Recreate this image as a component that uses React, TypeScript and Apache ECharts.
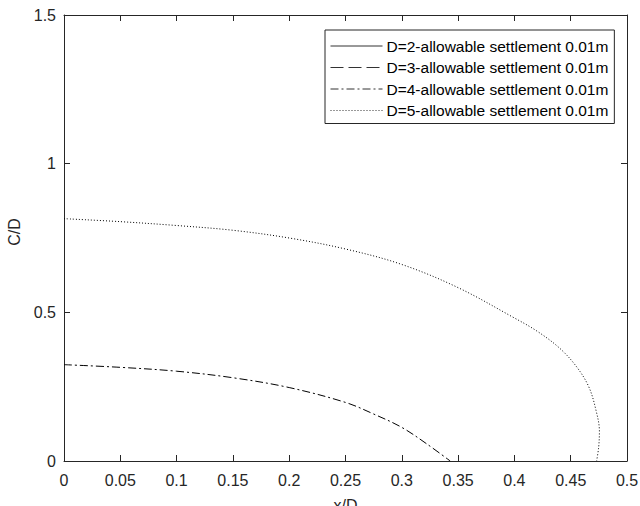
import React, { useEffect, useRef } from "react";
import * as echarts from "echarts";

const seriesNames = [
  "D=2-allowable settlement 0.01m",
  "D=3-allowable settlement 0.01m",
  "D=4-allowable settlement 0.01m",
  "D=5-allowable settlement 0.01m",
];

const d2X: number[] = [];
const d2Y: number[] = [];
const d3X: number[] = [];
const d3Y: number[] = [];
const d4X = [0, 0.05, 0.1, 0.15, 0.2, 0.25, 0.275, 0.3, 0.322, 0.343];
const d4Y = [0.324, 0.315, 0.302, 0.28, 0.247, 0.197, 0.158, 0.113, 0.058, 0];
const d5X = [0, 0.05, 0.1, 0.15, 0.2, 0.25, 0.3, 0.35, 0.4, 0.42, 0.44, 0.455, 0.466, 0.4725, 0.4755, 0.4748, 0.473];
const d5Y = [0.815, 0.805, 0.792, 0.776, 0.75, 0.713, 0.661, 0.583, 0.481, 0.437, 0.38, 0.318, 0.25, 0.17, 0.1, 0.045, 0];

const xTicks = { min: 0, max: 0.5, interval: 0.05 };
const yTicks = { min: 0, max: 1.5, interval: 0.5 };

const lineTypes: any[] = ["solid", [13, 5], [8, 3, 2, 3], [1, 2]];

const pair = (xs: number[], ys: number[]) => xs.map((x, i) => [x, ys[i]]);

export default function App() {
  const ref = useRef<HTMLDivElement>(null);
  useEffect(() => {
    if (!ref.current) return;
    const chart = echarts.init(ref.current, undefined, { renderer: "svg" });
    const axisColor = "#262626";
    const font = "Liberation Sans, Arial, Helvetica, sans-serif";
    const baseX = {
      type: "value",
      min: xTicks.min,
      max: xTicks.max,
      interval: xTicks.interval,
      axisLine: { show: true, onZero: false, lineStyle: { color: axisColor, width: 1 } },
      axisTick: { show: true, inside: true, length: 6, lineStyle: { color: axisColor } },
      splitLine: { show: false },
    };
    const baseY = {
      type: "value",
      min: yTicks.min,
      max: yTicks.max,
      interval: yTicks.interval,
      axisLine: { show: true, onZero: false, lineStyle: { color: axisColor, width: 1 } },
      axisTick: { show: true, inside: true, length: 6, lineStyle: { color: axisColor } },
      splitLine: { show: false },
    };
    const datasets = [pair(d2X, d2Y), pair(d3X, d3Y), pair(d4X, d4Y), pair(d5X, d5Y)];
    chart.setOption({
      animation: false,
      backgroundColor: "#ffffff",
      grid: { left: 64, right: 13, top: 15, bottom: 45, containLabel: false, outerBoundsMode: "none" },
      legend: {
        orient: "vertical",
        left: 325,
        top: 30,
        padding: [8, 6, 5, 5],
        itemGap: 5.5,
        itemWidth: 52,
        itemHeight: 14,
        borderColor: axisColor,
        borderWidth: 1,
        backgroundColor: "#ffffff",
        itemStyle: { color: "rgba(0,0,0,0)", borderWidth: 0, opacity: 0 },
        lineStyle: { width: 1, color: "#333" },
        textStyle: { fontFamily: font, fontSize: 15.5, color: "#000", lineHeight: 15, padding: [0, 0, 0, -1] },
        data: seriesNames,
      },
      xAxis: [
        {
          ...baseX,
          position: "bottom",
          name: "x/D",
          nameLocation: "middle",
          nameGap: 36,
          nameTextStyle: { fontFamily: font, fontSize: 16, color: axisColor, verticalAlign: "top" },
          axisLabel: { fontFamily: font, fontSize: 16, color: axisColor, margin: 11 },
        },
        { ...baseX, position: "top", axisLabel: { show: false } },
      ],
      yAxis: [
        {
          ...baseY,
          position: "left",
          name: "C/D",
          nameLocation: "middle",
          nameGap: 38,
          nameRotate: 90,
          nameTextStyle: { fontFamily: font, fontSize: 16, color: axisColor, padding: [0, 0, 0, 12] },
          axisLabel: { fontFamily: font, fontSize: 16, color: axisColor, margin: 8 },
        },
        { ...baseY, position: "right", axisLabel: { show: false } },
      ],
      series: seriesNames.map((name, i) => ({
        name,
        type: "line",
        xAxisIndex: 0,
        yAxisIndex: 0,
        data: datasets[i],
        symbol: "none",
        showSymbol: false,
        smooth: 0.35,
        color: "#000",
        lineStyle: { color: "#000", width: 1, type: lineTypes[i] },
      })),
    });
    return () => chart.dispose();
  }, []);
  return <div ref={ref} style={{ width: 640, height: 506, position: "absolute", left: 0, top: 0 }} />;
}
